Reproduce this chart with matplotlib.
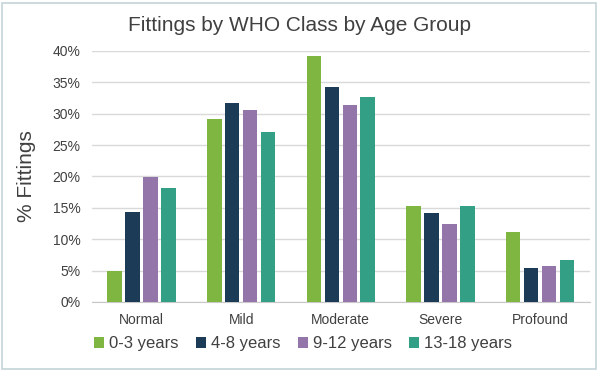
import numpy as np
import matplotlib.pyplot as plt
from matplotlib.patches import Rectangle
from matplotlib.ticker import PercentFormatter

plt.rcParams['font.family'] = ['Liberation Sans', 'DejaVu Sans']

categories = ['Normal', 'Mild', 'Moderate', 'Severe', 'Profound']
groups = ['0-3 years', '4-8 years', '9-12 years', '13-18 years']
values = [
    [4.9, 29.2, 39.2, 15.3, 11.2],   # 0-3 years
    [14.4, 31.7, 34.2, 14.2, 5.4],   # 4-8 years
    [19.9, 30.6, 31.3, 12.5, 5.7],   # 9-12 years
    [18.2, 27.1, 32.6, 15.3, 6.7],   # 13-18 years
]
colors = ['#7fb641', '#1b3b57', '#9475a9', '#33a086']

fig = plt.figure(figsize=(6, 3.71), dpi=100)
ax = fig.add_axes([0.153, 0.186, 0.83, 0.677])

x = np.arange(len(categories))
step = 0.18
for i, (g, vals) in enumerate(zip(groups, values)):
    ax.bar(x + (i - 1.5) * step, vals, width=0.145, color=colors[i], label=g, zorder=3)

ax.set_ylim(0, 40)
ax.set_xlim(-0.5, len(categories) - 0.5)
ax.set_yticks(np.arange(0, 41, 5))
ax.yaxis.set_major_formatter(PercentFormatter(decimals=0))
ax.set_xticks(x)
ax.set_xticklabels(categories)
ax.grid(axis='y', color='#d9d9d9', linewidth=1, zorder=0)
for s in ['top', 'right', 'left']:
    ax.spines[s].set_visible(False)
ax.spines['bottom'].set_color('#c8c8c8')
ax.tick_params(length=0, labelsize=10, colors='#404040', pad=8)

ax.set_ylabel('% Fittings', fontsize=15, color='#404040', labelpad=12)
fig.text(0.5, 0.93, 'Fittings by WHO Class by Age Group', ha='center', va='center',
         fontsize=15, color='#404040')

fig.legend(loc='center', bbox_to_anchor=(0.505, 0.073), ncol=4, frameon=False,
           fontsize=12, handlelength=0.6, handleheight=0.6, handletextpad=0.3,
           columnspacing=1.05, labelcolor='#404040')

fig.patches.append(Rectangle((0.004, 0.006), 0.99, 0.985, transform=fig.transFigure,
                             fill=False, edgecolor='#c5d4d8', linewidth=1.2))

fig.savefig('out.png', dpi=100)
